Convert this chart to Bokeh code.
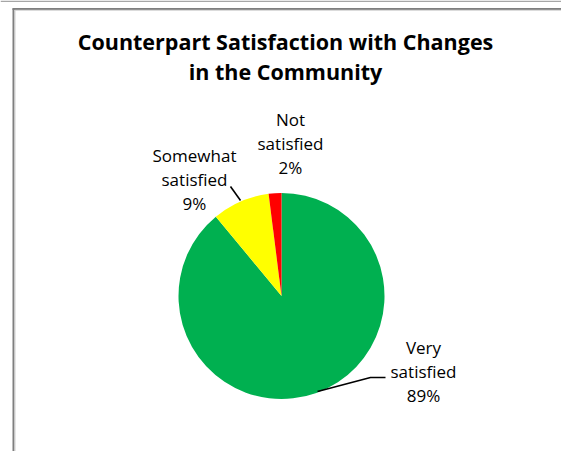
import math
from bokeh.plotting import figure
from bokeh.models import Range1d, ColumnDataSource
from bokeh.core.properties import value
from bokeh.embed import file_html
from bokeh.resources import INLINE

# ---- data ----
categories = ["Very satisfied", "Somewhat satisfied", "Not satisfied"]
percent = [89, 9, 2]
colors = ["#00B050", "#FFFF00", "#FF0000"]
title_lines = ["Counterpart Satisfaction with Changes", "in the Community"]

# ---- layout (page pixels; y converted so data y = 451 - page Y) ----
W, H = 561, 451
def py(Y):
    return H - Y

cx, cy, R = 281, py(295.5), 103
# (center x, baseline of first line in page px)
label_pos = [(423, 347), (194, 155), (290, 119)]
label_step = 24
title_pos = (285, 41)
title_step = 30

p = figure(width=W, height=H, output_backend="svg", toolbar_location=None,
           x_range=Range1d(0, W), y_range=Range1d(0, H),
           min_border=0, outline_line_color=None,
           background_fill_color="white", border_fill_color="white")
p.axis.visible = False
p.grid.visible = False

# pie wedges: start at 12 o'clock, clockwise
total = sum(percent)
starts, ends = [], []
acc = 0.0
for v in percent:
    a0 = acc / total * 2 * math.pi
    acc += v
    a1 = acc / total * 2 * math.pi
    starts.append(math.pi / 2 - a0)
    ends.append(math.pi / 2 - a1)
src = ColumnDataSource(dict(start=starts, end=ends, color=colors))
p.wedge(x=cx, y=cy, radius=R, start_angle="start", end_angle="end",
        direction="clock", fill_color="color", line_color=None, source=src)

# labels, one text per line
lx, ly, lt = [], [], []
for (x0, y0), c, v in zip(label_pos, categories, percent):
    lines = c.split(" ") + [f"{v}%"]
    for i, s in enumerate(lines):
        lx.append(x0)
        ly.append(py(y0 + i * label_step))
        lt.append(s)
p.text(x=lx, y=ly, text=lt,
       text_font=value("Open Sans"), text_font_size="17px", text_color="#000000",
       text_align="center", text_baseline="alphabetic")

# leader lines
p.multi_line(xs=[[230, 240], [317, 370, 385]],
             ys=[[py(186), py(200)], [py(391), py(377), py(377)]],
             line_color="black", line_width=1.6)

# title
p.text(x=[title_pos[0]] * len(title_lines),
       y=[py(title_pos[1] + i * title_step) for i in range(len(title_lines))],
       text=title_lines, text_font=value("Open Sans"),
       text_font_style="bold", text_font_size="21.5px", text_color="#000000",
       text_align="center", text_baseline="alphabetic")

# page top rule and chart frame (left and top edges)
p.segment(x0=[0], y0=[py(0.75)], x1=[W], y1=[py(0.75)],
          line_color="#a6a6a6", line_width=1.5)
p.segment(x0=[13, 12], y0=[0, py(8.5)], x1=[13, W], y1=[py(8), py(8.5)],
          line_color="#7f7f7f", line_width=2)
p.segment(x0=[14.5, 14], y0=[0, py(9.75)], x1=[14.5, W], y1=[py(9.5), py(9.75)],
          line_color="#d0d0d0", line_width=1)

open("out.html", "w").write(file_html(p, INLINE))
